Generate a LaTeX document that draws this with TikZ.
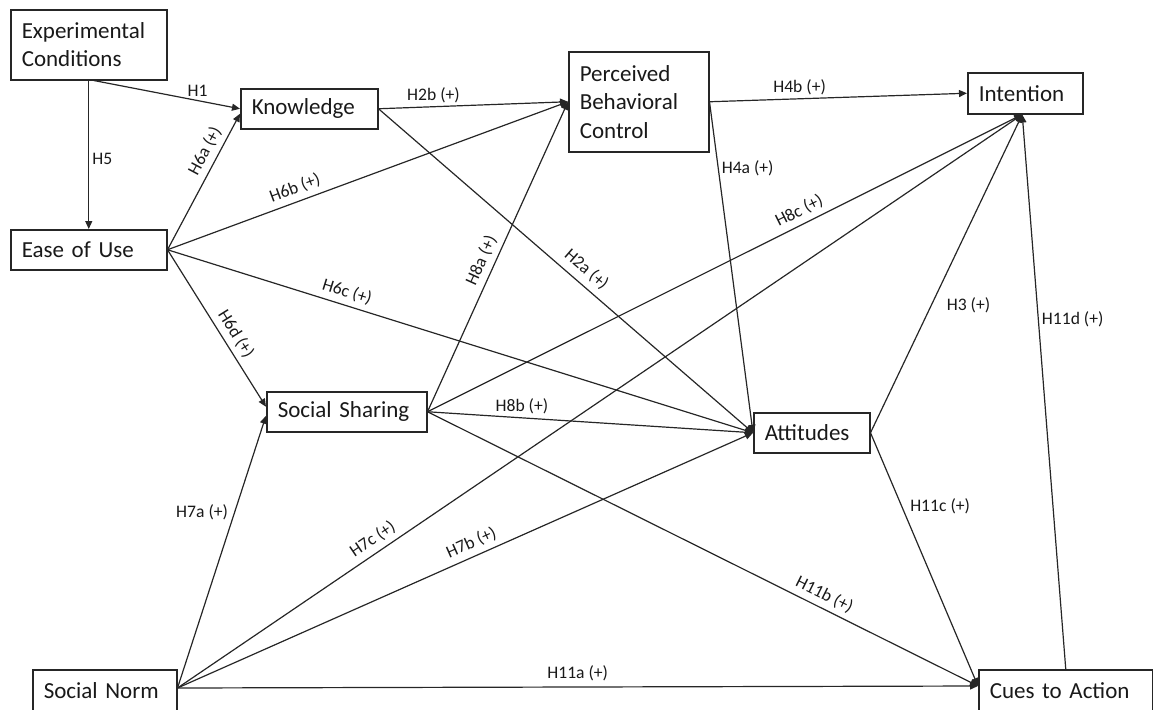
\documentclass[tikz,border=0pt]{standalone}
\usepackage{fontspec}
\setmainfont{Carlito}
\usetikzlibrary{arrows.meta}
\newcommand\boxfont{\fontsize{11.5}{14.3}\selectfont}
\newcommand\labfont{\fontsize{8.8}{10}\selectfont}
\begin{document}
\begin{tikzpicture}[x=0.5pt,y=-0.5pt,
  box/.style={draw=black!85, line width=0.75pt, anchor=north west, inner xsep=5.5pt, inner ysep=0pt, align=left, font=\boxfont, text=black!90},
  lab/.style={font=\labfont, inner sep=1.5pt, text=black!90},
  slab/.style={lab, sloped, above, inner sep=2.6pt},
  arr/.style={draw=black!85, line width=0.6pt, -{Triangle[length=4pt,width=3.5pt]}}]
\useasboundingbox (0,0) rectangle (1153,709);
\clip (0,0) rectangle (1153,709);
% boxes
\node[box, text width=67pt, minimum height=35pt] (EC) at (10,9) {Experimental\\Conditions};
\node[box, text width=67pt, minimum height=20pt] (Ease) at (10,229) {Ease of Use};
\node[box, text width=57.5pt, minimum height=20pt] (K) at (240,88) {Knowledge};
\node[box, text width=59pt, minimum height=50pt] (PBC) at (568,51) {Perceived\\Behavioral\\Control};
\node[box, text width=46.5pt, minimum height=20.5pt] (Int) at (967,72) {Intention};
\node[box, text width=69pt, minimum height=20pt] (SS) at (266,391) {Social Sharing};
\node[box, text width=47pt, minimum height=20pt] (Att) at (753,412) {Attitudes};
\node[box, text width=61pt, minimum height=21pt] (SN) at (32,669) {Social Norm};
\node[box, text width=76pt, minimum height=21pt] (Cues) at (978,669) {Cues to Action};
% anchor points
\coordinate (IntIn) at ([xshift=-1.5pt]Int.south);
\coordinate (SNout) at ([yshift=-9.5pt]SN.north east);
\coordinate (CuesIn) at ([yshift=-8.5pt]Cues.north west);
% edges
\draw[arr] ([xshift=2.5pt]EC.south) -- node[lab,above,pos=0.71]{H1} (K.west);
\draw[arr] (EC.south) -- node[lab,right,pos=0.53]{H5} (Ease.north);
\draw[arr] (Ease.east) -- node[slab,pos=0.68]{H6a (+)} ([yshift=-2.5pt]K.west);
\draw[arr] (Ease.east) -- node[slab,pos=0.33]{H6b (+)} (PBC.west);
\draw[arr] (Ease.east) -- node[slab,pos=0.3]{H6c (+)} (Att.west);
\draw[arr] (Ease.east) -- node[slab,pos=0.58]{H6d (+)} ([yshift=2.5pt]SS.west);
\draw[arr] (K.east) -- node[lab,above,pos=0.29]{H2b (+)} (PBC.west);
\draw[arr] (K.east) -- node[slab,pos=0.53,inner sep=3.2pt]{H2a (+)} (Att.west);
\draw[arr] (PBC.east) -- node[lab,above,pos=0.35]{H4b (+)} (Int.west);
\draw[arr] (PBC.east) -- node[lab,right,pos=0.2]{H4a (+)} (Att.west);
\draw[arr] (SS.east) -- node[slab,pos=0.47]{H8a (+)} (PBC.west);
\draw[arr] (SS.east) -- node[slab,pos=0.635]{H8c (+)} (IntIn);
\draw[arr] (SS.east) -- node[lab,above,pos=0.29]{H8b (+)} (Att.west);
\draw[arr] (SS.east) -- node[slab,pos=0.71]{H11b (+)} (CuesIn);
\draw[arr] (SNout) -- node[lab,left,pos=0.645,xshift=-1.5pt]{H7a (+)} ([yshift=-2pt]SS.west);
\draw[arr] (SNout) -- node[slab,pos=0.24]{H7c (+)} (IntIn);
\draw[arr] (SNout) -- node[slab,pos=0.52]{H7b (+)} (Att.west);
\draw[arr] (SNout) -- node[lab,above,pos=0.5,inner sep=2.5pt]{H11a (+)} (CuesIn);
\draw[arr] (Att.east) -- node[lab,right,pos=0.4,xshift=6pt]{H3 (+)} (IntIn);
\draw[arr] (Att.east) -- node[lab,right,pos=0.29,xshift=2.5pt]{H11c (+)} (CuesIn);
\draw[arr] (Cues.north) -- node[lab,right,pos=0.63]{H11d (+)} (IntIn);
\end{tikzpicture}
\end{document}
